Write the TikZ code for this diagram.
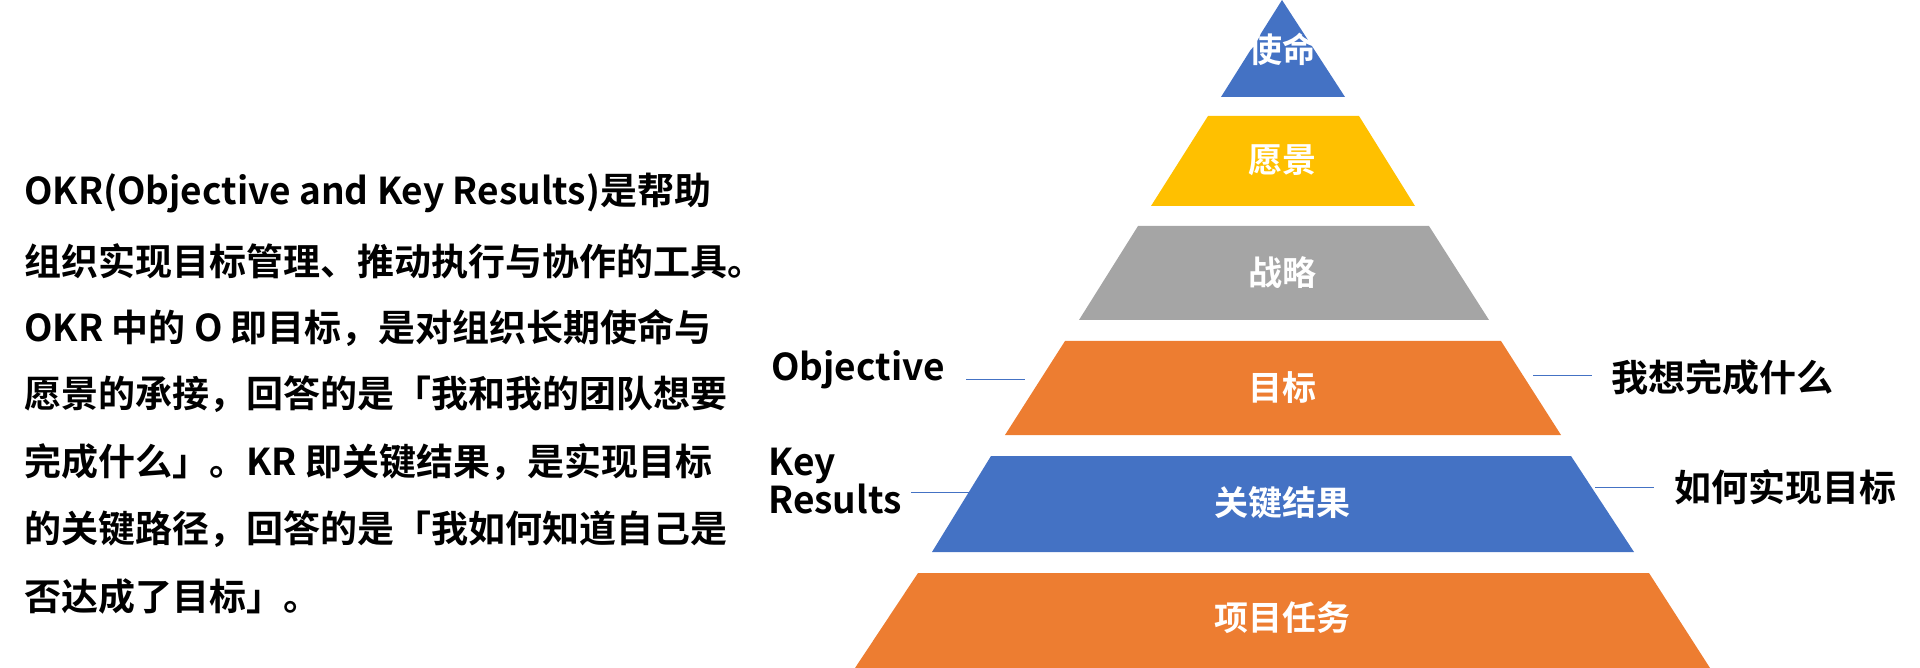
\documentclass[tikz,border=0pt]{standalone}
\usepackage{fontspec}
\setmainfont{Noto Sans CJK SC Bold}
\definecolor{cb}{HTML}{4472C4}
\definecolor{cy}{HTML}{FFC000}
\definecolor{cg}{HTML}{A5A5A5}
\definecolor{co}{HTML}{ED7D31}
\begin{document}
\begin{tikzpicture}[x=1pt,y=-1pt,
 lt/.style={anchor=west,inner sep=0,font=\fontsize{37}{37}\selectfont},
 pl/.style={text=white,font=\fontsize{34}{34}\selectfont,inner sep=0},
 sl/.style={font=\fontsize{37}{36}\selectfont,inner sep=0,align=left},
 cn/.style={cb,line width=0.8pt}]
\useasboundingbox (0,0) rectangle (1920,668);
\fill[cb] (1282,0) -- (1345,97) -- (1221,97) -- cycle;
\fill[cy] (1208,116) -- (1359,116) -- (1415,206) -- (1151,206) -- cycle;
\fill[cg] (1138,226) -- (1429,226) -- (1489,320) -- (1079,320) -- cycle;
\fill[co] (1065,341) -- (1501,341) -- (1561,435) -- (1005,435) -- cycle;
\fill[cb] (991,456) -- (1571,456) -- (1634,552) -- (932,552) -- cycle;
\fill[co] (918,573) -- (1649,573) -- (1710,668) -- (855,668) -- cycle;
\node[pl] (p1) at (1282,49) {使命};
\node[pl] (p2) at (1282,160) {愿景};
\node[pl] (p3) at (1282,273) {战略};
\node[pl] (p4) at (1282,388) {目标};
\node[pl] (p5) at (1282,503) {关键结果};
\node[pl] (p6) at (1282,618) {项目任务};
\node[sl,anchor=west] (o) at (771,370) {Objective};
\node[sl,anchor=west] (kr) at (768,481) {Key\\Results};
\node[sl,anchor=west] (ow) at (1611,377) {我想完成什么};
\node[sl,anchor=west] (kw) at (1674,487) {如何实现目标};
\coordinate (a1) at (966,379); \coordinate (a2) at (1025,379);
\coordinate (b1) at (1533,375); \coordinate (b2) at (1592,375);
\coordinate (c1) at (911,492); \coordinate (c2) at (969,492);
\coordinate (d1) at (1595,487); \coordinate (d2) at (1654,487);
\draw[cn] (a1)--(a2); \draw[cn] (b1)--(b2); \draw[cn] (c1)--(c2); \draw[cn] (d1)--(d2);
\node[lt] (t1) at (24,193) {OKR(Objective and Key Results)是帮助};
\node[lt] (t2) at (24,261) {组织实现目标管理、推动执行与协作的工具。};
\node[lt] (t3) at (24,328) {OKR 中的 O 即目标，是对组织长期使命与};
\node[lt] (t4) at (24,394) {愿景的承接，回答的是「我和我的团队想要};
\node[lt] (t5) at (24,462) {完成什么」。KR 即关键结果，是实现目标};
\node[lt] (t6) at (24,529) {的关键路径，回答的是「我如何知道自己是};
\node[lt] (t7) at (24,596) {否达成了目标」。};
\end{tikzpicture}
\end{document}
